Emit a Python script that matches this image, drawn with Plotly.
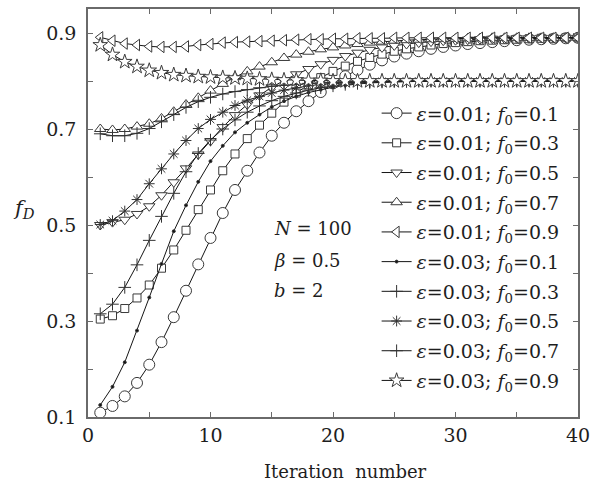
import plotly.graph_objects as go

# iteration index
iterations = list(range(1, 41))

# fraction f_D per iteration, epsilon = 0.01
f_e1_f01 = [0.109, 0.123, 0.143, 0.171, 0.209, 0.256, 0.308, 0.363, 0.418, 0.473,
            0.525, 0.573, 0.613, 0.651, 0.686, 0.713, 0.737, 0.758, 0.777, 0.795,
            0.810, 0.823, 0.834, 0.843, 0.851, 0.857, 0.862, 0.867, 0.871, 0.874,
            0.877, 0.879, 0.881, 0.883, 0.885, 0.886, 0.887, 0.888, 0.889, 0.890]
f_e1_f03 = [0.304, 0.311, 0.326, 0.348, 0.375, 0.410, 0.448, 0.489, 0.532, 0.573,
            0.613, 0.648, 0.680, 0.708, 0.733, 0.756, 0.775, 0.792, 0.807, 0.820,
            0.831, 0.841, 0.849, 0.856, 0.862, 0.867, 0.871, 0.875, 0.878, 0.880,
            0.882, 0.884, 0.885, 0.886, 0.887, 0.888, 0.889, 0.889, 0.890, 0.890]
f_e1_f05 = [0.500, 0.506, 0.511, 0.523, 0.539, 0.562, 0.589, 0.618, 0.647, 0.675,
            0.704, 0.729, 0.751, 0.770, 0.787, 0.801, 0.814, 0.825, 0.835, 0.844,
            0.852, 0.859, 0.865, 0.870, 0.874, 0.877, 0.880, 0.882, 0.884, 0.885,
            0.886, 0.887, 0.888, 0.888, 0.889, 0.889, 0.890, 0.890, 0.890, 0.890]
f_e1_f07 = [0.700, 0.698, 0.700, 0.705, 0.711, 0.722, 0.736, 0.751, 0.765, 0.780,
            0.794, 0.808, 0.820, 0.830, 0.839, 0.848, 0.855, 0.861, 0.866, 0.870,
            0.874, 0.877, 0.880, 0.882, 0.884, 0.885, 0.886, 0.887, 0.888, 0.888,
            0.889, 0.889, 0.890, 0.890, 0.890, 0.890, 0.890, 0.890, 0.890, 0.890]
f_e1_f09 = [0.891, 0.884, 0.878, 0.875, 0.872, 0.871, 0.871, 0.872, 0.875, 0.877,
            0.880, 0.881, 0.882, 0.883, 0.884, 0.885, 0.886, 0.887, 0.887, 0.888,
            0.888, 0.889, 0.889, 0.889, 0.890, 0.890, 0.890, 0.890, 0.890, 0.890,
            0.890, 0.890, 0.890, 0.890, 0.890, 0.890, 0.890, 0.890, 0.890, 0.890]

# fraction f_D per iteration, epsilon = 0.03
f_e3_f01 = [0.125, 0.163, 0.214, 0.280, 0.349, 0.419, 0.487, 0.541, 0.590, 0.633,
            0.665, 0.693, 0.713, 0.730, 0.746, 0.758, 0.768, 0.776, 0.782, 0.787,
            0.791, 0.794, 0.796, 0.797, 0.798, 0.799, 0.799, 0.800, 0.800, 0.800,
            0.800, 0.800, 0.800, 0.800, 0.800, 0.800, 0.800, 0.800, 0.800, 0.800]
f_e3_f03 = [0.315, 0.335, 0.370, 0.417, 0.468, 0.518, 0.566, 0.611, 0.649, 0.677,
            0.700, 0.719, 0.735, 0.748, 0.759, 0.768, 0.775, 0.781, 0.786, 0.790,
            0.793, 0.795, 0.797, 0.798, 0.799, 0.799, 0.800, 0.800, 0.800, 0.800,
            0.800, 0.800, 0.800, 0.800, 0.800, 0.800, 0.800, 0.800, 0.800, 0.800]
f_e3_f05 = [0.501, 0.509, 0.529, 0.553, 0.586, 0.617, 0.648, 0.676, 0.701, 0.720,
            0.735, 0.749, 0.760, 0.768, 0.775, 0.781, 0.786, 0.790, 0.793, 0.795,
            0.796, 0.797, 0.798, 0.799, 0.799, 0.800, 0.800, 0.800, 0.800, 0.800,
            0.800, 0.800, 0.800, 0.800, 0.800, 0.800, 0.800, 0.800, 0.800, 0.800]
f_e3_f07 = [0.690, 0.686, 0.686, 0.691, 0.701, 0.715, 0.730, 0.745, 0.757, 0.766,
            0.773, 0.778, 0.782, 0.786, 0.789, 0.791, 0.793, 0.795, 0.796, 0.797,
            0.798, 0.798, 0.799, 0.799, 0.800, 0.800, 0.800, 0.800, 0.800, 0.800,
            0.800, 0.800, 0.800, 0.800, 0.800, 0.800, 0.800, 0.800, 0.800, 0.800]
f_e3_f09 = [0.875, 0.855, 0.840, 0.830, 0.822, 0.817, 0.813, 0.811, 0.809, 0.808,
            0.807, 0.806, 0.805, 0.804, 0.803, 0.802, 0.802, 0.801, 0.801, 0.800,
            0.800, 0.800, 0.800, 0.800, 0.800, 0.800, 0.800, 0.800, 0.800, 0.800,
            0.800, 0.800, 0.800, 0.800, 0.800, 0.800, 0.800, 0.800, 0.800, 0.800]

series_labels = [
    "<i>ε</i>=0.01; <i>f</i><sub>0</sub>=0.1",
    "<i>ε</i>=0.01; <i>f</i><sub>0</sub>=0.3",
    "<i>ε</i>=0.01; <i>f</i><sub>0</sub>=0.5",
    "<i>ε</i>=0.01; <i>f</i><sub>0</sub>=0.7",
    "<i>ε</i>=0.01; <i>f</i><sub>0</sub>=0.9",
    "<i>ε</i>=0.03; <i>f</i><sub>0</sub>=0.1",
    "<i>ε</i>=0.03; <i>f</i><sub>0</sub>=0.3",
    "<i>ε</i>=0.03; <i>f</i><sub>0</sub>=0.5",
    "<i>ε</i>=0.03; <i>f</i><sub>0</sub>=0.7",
    "<i>ε</i>=0.03; <i>f</i><sub>0</sub>=0.9",
]
series_values = [f_e1_f01, f_e1_f03, f_e1_f05, f_e1_f07, f_e1_f09,
                 f_e3_f01, f_e3_f03, f_e3_f05, f_e3_f07, f_e3_f09]

# marker style per series: (symbol, size, fill colour)
marker_styles = [
    ("circle", 11, "white"),
    ("square", 8, "white"),
    ("triangle-down", 10, "white"),
    ("triangle-up", 10, "white"),
    ("triangle-left", 10, "white"),
    ("circle", 3, "#111111"),
    ("cross-thin-open", 9, "#333333"),
    ("asterisk-open", 9, "#333333"),
    ("cross-thin-open", 9, "#333333"),
    ("star", 11, "white"),
]

FONT = "DejaVu Serif"
INK = "#1e1e1e"
AXIS = "#6a6a6a"

fig = go.Figure()
for i, (label, vals, (sym, size, fill)) in enumerate(zip(series_labels, series_values, marker_styles)):
    fig.add_trace(go.Scatter(
        x=iterations, y=vals, name=label, mode="lines+markers",
        legendgroup=f"g{i}",
        line=dict(color="#151515", width=1),
        marker=dict(symbol=sym, size=size, color=fill,
                    line=dict(color="#3a3a3a", width=1)),
    ))

axis_common = dict(
    showline=True, linecolor=AXIS, linewidth=1.5, mirror="ticks",
    ticks="inside", ticklen=5, tickcolor=AXIS, tickwidth=1,
    showgrid=False, zeroline=False,
    tickfont=dict(family=FONT, size=19, color=INK),
)

fig.update_layout(
    width=597, height=483,
    margin=dict(l=88, r=11, t=7, b=66),
    paper_bgcolor="white", plot_bgcolor="white",
    showlegend=True,
    legend=dict(
        x=0.589, xanchor="left", y=0.791, yanchor="top",
        bgcolor="rgba(0,0,0,0)", borderwidth=0,
        font=dict(family=FONT, size=19, color=INK),
        traceorder="grouped", tracegroupgap=2,
    ),
    xaxis=dict(range=[0, 40], tick0=0, dtick=10, ticklabeloverflow="allow",
               minor=dict(dtick=5, ticks="inside", ticklen=5, tickcolor=AXIS),
               **axis_common),
    yaxis=dict(range=[0.1, 0.95], tick0=0.1, dtick=0.2, tickformat=".1f",
               minor=dict(tick0=0.1, dtick=0.1, ticks="inside", ticklen=5, tickcolor=AXIS),
               ticklabelstandoff=6, **axis_common),
    annotations=[
        dict(text="Iteration  number", xref="paper", yref="paper",
             x=0.526, y=-0.134, xanchor="center", yanchor="middle",
             showarrow=False, font=dict(family=FONT, size=18, color=INK)),
        dict(text="<i>f</i><sub><i>D</i></sub>", xref="paper", yref="paper",
             x=-0.13, y=0.51, xanchor="center", yanchor="middle",
             showarrow=False, font=dict(family=FONT, size=21, color=INK)),
        dict(text="<i>N</i> = 100", xref="paper", yref="paper",
             x=0.376, y=(417 - 228) / 410, xanchor="left", yanchor="middle",
             showarrow=False, font=dict(family=FONT, size=18, color=INK)),
        dict(text="<i>β</i> = 0.5", xref="paper", yref="paper",
             x=0.376, y=(417 - 260) / 410, xanchor="left", yanchor="middle",
             showarrow=False, font=dict(family=FONT, size=18, color=INK)),
        dict(text="<i>b</i> = 2", xref="paper", yref="paper",
             x=0.376, y=(417 - 290) / 410, xanchor="left", yanchor="middle",
             showarrow=False, font=dict(family=FONT, size=18, color=INK)),
    ],
)

fig.write_html("out.html")
